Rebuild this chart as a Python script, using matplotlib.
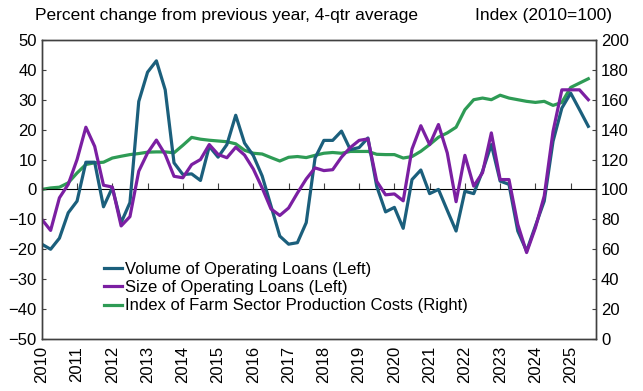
import matplotlib
matplotlib.use("Agg")
import matplotlib.pyplot as plt
import numpy as np

plt.rcParams['font.family'] = ['Liberation Sans', 'DejaVu Sans']

# quarterly data, 2010Q1 .. 2025Q3
start_year = 2010
volume = [-18.3, -20, -16.3, -7.8, -3.9, 9.1, 9.1, -5.8, 0.6, -11.1,
          -4.4, 29.4, 39.2, 43, 33.3, 8.9, 5, 5.2, 3, 14.4,
          10.8, 15, 24.8, 15.5, 11.3, 4.5, -5.5, -15.6, -18.3, -17.8,
          -11.1, 10.5, 16.4, 16.4, 19.5, 13.3, 14, 17.2, 1, -7.5,
          -6, -13, 3.3, 6.5, -1.4, 0, -7, -13.9, -0.6, -1.4,
          6.1, 15, 2.8, 1.7, -13.9, -20.6, -12.2, -3.9, 16.1, 27.2,
          32.2, 26.7, 21.1]
size = [-10, -13.7, -2.8, 1.7, 10, 20.8, 14.4, 1.4, 0.8, -12.2,
        -9.1, 6.1, 12.2, 16.5, 11.7, 4.4, 3.9, 8.3, 10, 15,
        11.7, 10.6, 14.1, 11.5, 6.8, 0.5, -6.5, -8.7, -6.2, -1.2,
        3.5, 7.2, 6.3, 6.6, 10.8, 14, 16.4, 16.9, 2.7, -1.8,
        -1.5, -3.8, 13.5, 21.3, 15, 21.7, 12.2, -4.1, 11.4, 1.1,
        5.6, 18.9, 3.3, 3.3, -11.7, -21.1, -12.8, -2.2, 19.4, 33.3,
        33.3, 33.3, 30]
costs = [100, 101, 101.5, 104.4, 111, 116.7, 117.8, 118.2, 121, 122.2,
         123.3, 124, 124.9, 125.1, 125.1, 124.5, 129.5, 134.8, 133.6, 132.9,
         132.4, 131.9, 130.5, 126.2, 124.2, 123.7, 121.3, 119, 121.5, 122,
         121.3, 122.8, 124.2, 124.7, 124.2, 125.4, 125.4, 125.4, 123.5, 123.3,
         123.3, 121, 122, 125.5, 130, 134.9, 137.8, 141.6, 153.3, 160,
         161.1, 160, 163, 161.1, 160, 158.9, 158.2, 158.9, 156.2, 158.2,
         168.2, 171.1, 174]
years = list(range(2010, 2026))

t = start_year + np.arange(len(volume)) / 4

c_vol = '#1b5f7c'
c_size = '#7b1fa2'
c_cost = '#2e9b55'
axis_col = '#404040'
fs = 12

fig = plt.figure(figsize=(6.43, 3.91), dpi=100)
ax = fig.add_axes([0.065, 0.133, 0.862, 0.765])
ax2 = ax.twinx()

l1, = ax.plot(t, volume, color=c_vol, lw=2.3, label='Volume of Operating Loans (Left)')
l2, = ax.plot(t, size, color=c_size, lw=2.3, label='Size of Operating Loans (Left)')
l3, = ax2.plot(t, costs, color=c_cost, lw=2.3, label='Index of Farm Sector Production Costs (Right)')
ax.set_zorder(ax2.get_zorder() + 1)
ax.patch.set_visible(False)

ax.set_xlim(2010, 2025.72)
ax.set_ylim(-50, 50)
ax.set_yticks(range(-50, 51, 10))
ax2.set_ylim(0, 200)
ax2.set_yticks(range(0, 201, 20))

ax.set_xticks(years)
ax.set_xticklabels([str(y) for y in years], rotation=90)
ax.tick_params(axis='x', length=0, pad=5, labelsize=fs)
ax.tick_params(axis='y', direction='in', length=3, labelsize=fs, color=axis_col)
ax2.tick_params(axis='y', direction='in', length=3, labelsize=fs, color=axis_col)

# zero line with year tick marks
sec = ax.secondary_xaxis(0.5)
sec.set_xticks(years)
sec.xaxis.set_ticklabels([])
sec.tick_params(axis='x', direction='out', length=4, color=axis_col)
sec.spines['bottom'].set_color(axis_col)

for a in (ax, ax2):
    for s in a.spines.values():
        s.set_color(axis_col)
        s.set_linewidth(1)

fig.text(0.055, 0.96, 'Percent change from previous year, 4-qtr average',
         fontsize=12.5, ha='left', va='center')
fig.text(0.952, 0.96, 'Index (2010=100)', fontsize=12.5, ha='right', va='center')

ax.legend(handles=[l1, l2, l3], loc='lower left', bbox_to_anchor=(0.1, 0.063),
          frameon=False, fontsize=fs, handlelength=1.1, handletextpad=0.15,
          labelspacing=0.2, borderaxespad=0)

fig.savefig('out.png', dpi=100)
